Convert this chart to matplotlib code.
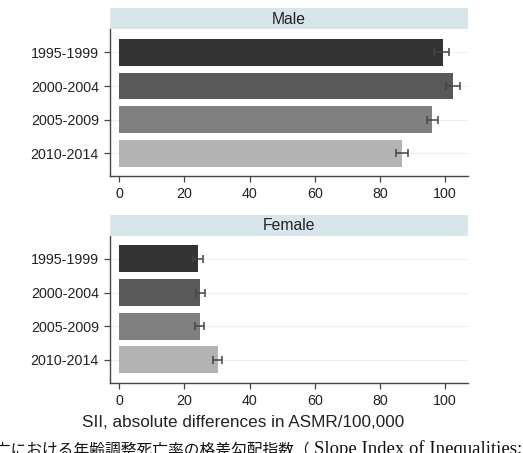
import matplotlib
matplotlib.use("Agg")
import matplotlib.pyplot as plt
from matplotlib.patches import Rectangle

periods = ["1995-1999", "2000-2004", "2005-2009", "2010-2014"]
male_sii = [99.2, 102.3, 96.1, 86.9]
male_lo = [96.6, 100.3, 94.3, 85.0]
male_hi = [101.2, 104.4, 97.9, 88.6]
female_sii = [24.2, 24.9, 24.7, 30.3]
female_lo = [22.8, 23.6, 23.4, 28.9]
female_hi = [25.7, 26.3, 26.1, 31.5]
panels = ["Male", "Female"]
xticks = [0, 20, 40, 60, 80, 100]
xlabel = "SII, absolute differences in ASMR/100,000"
caption_jp = "死亡における年齢調整死亡率の格差勾配指数（"
caption_en = "Slope Index of Inequalities: SII）"

bar_colors = ["#333333", "#595959", "#808080", "#b3b3b3"]
strip_color = "#d8e5ea"
W, H = 523, 453
fig = plt.figure(figsize=(W / 100, H / 100), dpi=100)

def fx(px):
    return px / W

def fy(py):
    return 1 - py / H

layout = [
    (8, 29.3, 176),     # strip top, axes top, axes bottom (px)
    (215, 235.7, 382.7),
]
data = [(male_sii, male_lo, male_hi), (female_sii, female_lo, female_hi)]

for (st, at, ab), name, (vals, lo, hi) in zip(layout, panels, data):
    ax = fig.add_axes([fx(110), fy(ab), fx(468) - fx(110), fy(at) - fy(ab)])
    y = list(range(len(periods)))
    for yi in y:
        ax.axhline(yi, color="#eeeeee", lw=0.8, zorder=0)
    ax.barh(y, vals, height=0.8, color=bar_colors, zorder=2)
    xerr = [[v - l for v, l in zip(vals, lo)], [h - v for v, h in zip(vals, hi)]]
    ax.errorbar(vals, y, xerr=xerr, fmt="none", ecolor="#444444",
                elinewidth=1.1, capsize=3, capthick=1.1, zorder=3)
    ax.set_xlim(-2.8, 107)
    ax.set_ylim(3.68, -0.69)
    ax.set_yticks(y)
    ax.set_yticklabels(periods, fontsize=10.3, family="Liberation Sans", color="#222222")
    ax.set_xticks(xticks)
    ax.set_xticklabels([str(t) for t in xticks], fontsize=10.3, family="Liberation Sans", color="#222222")
    ax.tick_params(axis="both", length=4, width=0.9, color="#444444", pad=4)
    for s in ["top", "right"]:
        ax.spines[s].set_visible(False)
    for s in ["left", "bottom"]:
        ax.spines[s].set_color("#444444")
        ax.spines[s].set_linewidth(1.0)
    # strip header
    sax = fig.add_axes([fx(110), fy(at), fx(468) - fx(110), fy(st) - fy(at)])
    sax.set_axis_off()
    sax.add_patch(Rectangle((0, 0), 1, 1, transform=sax.transAxes,
                            facecolor=strip_color, edgecolor="none"))
    sax.text(0.5, 0.47, name, ha="center", va="center", fontsize=11.3,
             family="Liberation Sans", color="#222222", transform=sax.transAxes)

fig.text(fx(243.5), fy(422.7), xlabel, ha="center", va="center", fontsize=12.3,
         family="Liberation Sans", color="#222222")
fig.text(fx(-20), fy(454), caption_jp, ha="left", va="baseline", fontsize=11.3,
         family=["Noto Sans CJK JP"], color="#111111")
fig.text(fx(314), fy(454), caption_en, ha="left", va="baseline", fontsize=13.5,
         family=["Liberation Serif", "Noto Sans CJK JP"], color="#111111")

fig.savefig("out.png", dpi=100)
